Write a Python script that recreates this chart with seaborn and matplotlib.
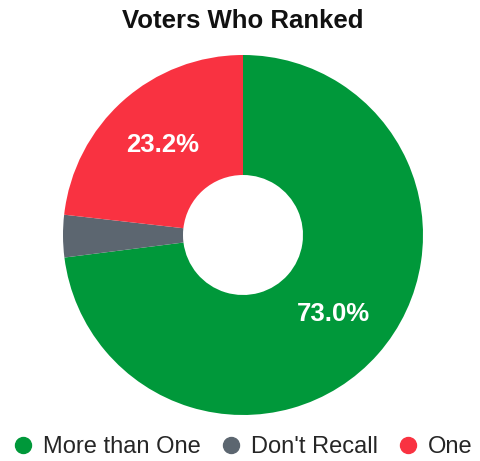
import matplotlib
matplotlib.use("Agg")
import matplotlib.pyplot as plt
from matplotlib.lines import Line2D
import numpy as np
import seaborn as sns

categories = ["More than One", "Don't Recall", "One"]
values = [73.0, 3.8, 23.2]
colors = ["#00983a", "#5c6670", "#f93241"]
title = "Voters Who Ranked"

sns.set_theme(style="white")
plt.rcParams['font.family'] = ['Liberation Sans', 'DejaVu Sans']

fig = plt.figure(figsize=(4.8, 4.61), dpi=100)
ax = fig.add_axes([63/480, 46/461, 360/480, 360/461])

wedges, texts = ax.pie(values, colors=colors, startangle=90, counterclock=False,
                       radius=1.0, wedgeprops=dict(width=2/3, linewidth=0))
ax.set_xlim(-1, 1)
ax.set_ylim(-1, 1)
ax.set_aspect('auto')
ax.axis('off')

total = sum(values)
start = 90.0
for v in values:
    ang = start - v / total * 360 / 2
    start -= v / total * 360
    if v / total < 0.05:
        continue
    r = 2/3
    ax.text(r * np.cos(np.radians(ang)), r * np.sin(np.radians(ang)), f"{v:.1f}%",
            ha='center', va='center', color='white', fontsize=18.5, fontweight='bold')

fig.text(243/480, 1 - 21/461, title, ha='center', va='center', fontsize=18.5,
         fontweight='bold', color='#111111')

handles = [Line2D([0], [0], marker='o', linestyle='', markersize=11.5,
                  markerfacecolor=c, markeredgecolor=c) for c in colors]
fig.legend(handles, categories, loc='center', bbox_to_anchor=(242/480, 1 - 447/461),
           ncol=3, frameon=False, fontsize=17, handletextpad=0.35,
           columnspacing=0.76, handlelength=1.0)

fig.savefig("out.png", dpi=100)
